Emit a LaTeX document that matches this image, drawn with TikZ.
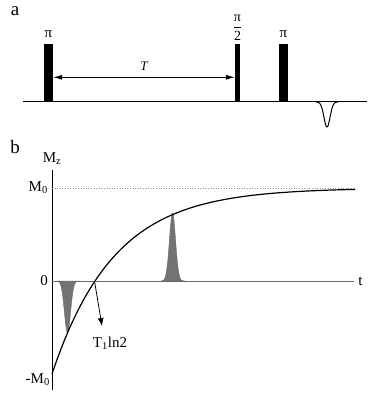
\documentclass[tikz,border=0pt]{standalone}
\usepackage{fontspec}
\setmainfont{Liberation Serif}
\usepackage{tikz}
\usetikzlibrary{arrows.meta}

\tikzset{
  pulse/.style={fill=black, draw=none, anchor=south, inner sep=0pt, minimum height=58pt},
  lbl/.style={font=\fontsize{15}{16}\selectfont, inner sep=1pt},
  panel/.style={font=\fontsize{19}{20}\selectfont, inner sep=0pt},
  peak/.style={fill=black!55, draw=black!60, line width=0.4pt}
}

\begin{document}
\begin{tikzpicture}[x=1pt, y=-1pt]
                \useasboundingbox (0,0) rectangle (379,401);

                % Panel a
                \node[panel] (la) at (15,11) {a};

                % Baseline
                \draw[line width=1pt] (23,102) -- (367,102);

                % Pulses
                \node[pulse, minimum width=9pt] (p1) at (48.5,102.5) {};
                \node[pulse, minimum width=5pt] (p2) at (237.5,102.5) {};
                \node[pulse, minimum width=9pt] (p3) at (283.5,102.5) {};
                \node[lbl, above=5pt] (n1) at (p1.north) {π};
                \node[lbl, above=2pt, font=\fontsize{14}{15}\selectfont] (n2) at (p2.north)
                    {$\displaystyle\frac{\mbox{π}}{\mbox{2}}$};
                \node[lbl, above=5pt] (n3) at (p3.north) {π};

                % Delay
                \draw[{Latex[length=9pt,width=5pt]}-{Latex[length=9pt,width=5pt]}, line width=0.8pt]
                    ([yshift=-4pt]p1.east) -- ([yshift=-4pt]p2.west)
                    node[midway, above=3pt, font=\fontsize{13}{13}\itshape] (tau) {T};

                % Echo
                \draw[line width=1pt, domain=316:338, samples=60] plot (\x, {102+25*exp(-((\x-327)/4.3)^2)});

                % Panel b
                \node[panel] (lb) at (15,147) {b};

                % Axes
                \draw[line width=0.8pt] (52,170) -- (52,390);
                \draw[black!60, line width=0.8pt] (52,281) -- (354,281) node[lbl, right=3pt, text=black] (t) {t};
                \draw[black!45, dotted, line width=0.6pt] (52,188) -- (354,188);
                \node[lbl, above=4pt] (mz) at (52,170) {M\textsubscript{z}};
                \node[lbl, left=3pt] (m0) at (52,188) {M\textsubscript{0}};
                \node[lbl, left=3pt] (z0) at (52,281) {0};
                \node[lbl, left=1pt] (mm0) at (52,380) {-M\textsubscript{0}};

                % Signals
                \fill[peak, domain=56:80, samples=60] plot (\x, {281+52*exp(-((\x-67.5)/4.3)^2)}) -- cycle;
                \fill[peak, domain=161:185, samples=60] plot (\x, {281-68*exp(-((\x-172.5)/4.3)^2)}) -- cycle;

                % Recovery curve
                \draw[line width=1.2pt, domain=52:355, samples=120] plot (\x, {281-93*(1-2*exp(-(\x-52)/62))});

                % Zero crossing
                \coordinate (cross) at (94.5,281);
                \coordinate (tip) at (102,326);
                \draw[-{Latex[length=8pt,width=6pt]}, line width=0.8pt] (cross) -- (tip);
                \node[lbl] (tln) at (110,343) {T\textsubscript{1}ln2};
\end{tikzpicture}
\end{document}
